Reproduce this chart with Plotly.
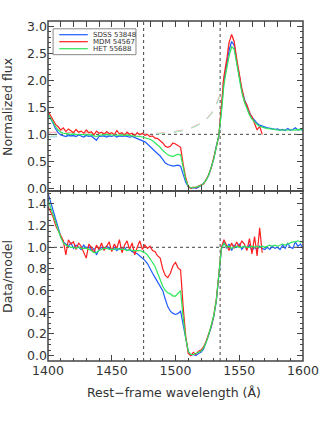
import plotly.graph_objects as go

# ---------------- data ----------------
wave_full = list(range(1400, 1601, 2))   # SDSS / HET sampling (Angstrom)
wave_mdm = list(range(1400, 1569, 2))    # MDM spectrum ends at ~1568 A

names = ["SDSS 53848", "MDM 54567", "HET 55688"]
colors = ["#1f5cff", "#ff1f1f", "#2ee65a"]
model_colors = ["#9ec4ff", "#ffa8a8", "#a8f0bc"]

# Normalized flux (top panel)
flux_sdss = [
    1.38, 1.30, 1.20, 1.10, 1.03, 0.99, 0.98, 0.96, 0.99, 0.97,
    0.98, 0.96, 0.99, 0.97, 0.95, 0.98, 0.96, 0.97, 0.93, 0.89,
    0.96, 0.96, 0.97, 0.95, 0.97, 0.96, 0.98, 0.95, 0.97, 0.96,
    0.97, 0.96, 0.95, 0.96, 0.94, 0.93, 0.91, 0.89, 0.86, 0.82,
    0.77, 0.72, 0.68, 0.64, 0.60, 0.53, 0.47, 0.44, 0.42, 0.41,
    0.42, 0.43, 0.41, 0.24, 0.11, 0.03, 0.00, 0.01, 0.00, 0.02,
    0.05, 0.09, 0.15, 0.24, 0.38, 0.55, 0.78, 0.97, 1.45, 2.00,
    2.28, 2.55, 2.72, 2.65, 2.35, 2.05, 1.82, 1.65, 1.52, 1.40,
    1.32, 1.25, 1.20, 1.17, 1.15, 1.13, 1.12, 1.11, 1.10, 1.09,
    1.10, 1.08, 1.09, 1.07, 1.11, 1.08, 1.09, 1.12, 1.08, 1.10, 1.07,
]
flux_mdm = [
    1.43, 1.35, 1.25, 1.18, 1.14, 1.08, 1.12, 1.05, 1.10, 1.07,
    1.03, 1.09, 1.04, 1.06, 1.02, 1.08, 1.03, 1.05, 0.99, 1.06,
    1.02, 1.04, 1.00, 1.05, 1.01, 1.03, 0.99, 1.07, 1.01, 1.03,
    0.98, 1.04, 1.00, 1.02, 0.97, 1.03, 0.99, 1.02, 0.98, 1.00,
    0.96, 0.97, 0.93, 0.92, 0.88, 0.84, 0.78, 0.76, 0.78, 0.84,
    0.82, 0.79, 0.76, 0.45, 0.20, 0.03, 0.00, 0.02, 0.01, 0.04,
    0.06, 0.08, 0.16, 0.25, 0.38, 0.56, 0.76, 0.98, 1.50, 2.08,
    2.35, 2.70, 2.85, 2.72, 2.40, 2.08, 1.85, 1.62, 1.55, 1.38,
    1.33, 1.20, 1.08, 1.15, 1.00,
]
flux_het = [
    1.38, 1.30, 1.21, 1.14, 1.08, 1.04, 1.02, 1.02, 1.01, 1.00,
    1.01, 1.00, 1.00, 0.99, 1.00, 0.99, 1.00, 0.99, 0.97, 0.96,
    0.98, 0.99, 0.99, 1.00, 0.99, 0.99, 0.98, 0.99, 0.99, 0.98,
    0.99, 0.98, 0.98, 0.97, 0.97, 0.97, 0.96, 0.95, 0.94, 0.93,
    0.91, 0.88, 0.84, 0.80, 0.76, 0.70, 0.65, 0.62, 0.60, 0.59,
    0.61, 0.63, 0.62, 0.35, 0.16, 0.04, 0.01, 0.01, 0.02, 0.03,
    0.05, 0.09, 0.15, 0.24, 0.37, 0.54, 0.76, 0.99, 1.40, 1.92,
    2.20, 2.45, 2.62, 2.58, 2.32, 2.02, 1.78, 1.60, 1.46, 1.36,
    1.28, 1.22, 1.18, 1.15, 1.13, 1.12, 1.11, 1.10, 1.09, 1.09,
    1.08, 1.08, 1.08, 1.07, 1.08, 1.07, 1.08, 1.08, 1.09, 1.09, 1.08,
]

# Unabsorbed models (pale dashed lines in top panel)
model_wave = [1400, 1420, 1440, 1460, 1476, 1486, 1496, 1506, 1514, 1520,
              1524, 1528, 1531, 1534, 1536, 1538, 1540, 1542, 1544, 1546,
              1548, 1552, 1556, 1560, 1566, 1572, 1580, 1590, 1600]
model_sdss = [0.95, 0.97, 0.98, 0.99, 1.00, 1.01, 1.03, 1.07, 1.13, 1.20,
              1.27, 1.38, 1.50, 1.66, 1.78, 2.02, 2.28, 2.55, 2.72, 2.65,
              2.35, 1.82, 1.52, 1.32, 1.17, 1.12, 1.10, 1.08, 1.08]
model_mdm = [1.04, 1.03, 1.02, 1.01, 1.01, 1.02, 1.04, 1.08, 1.14, 1.21,
             1.28, 1.39, 1.51, 1.68, 1.80, 2.08, 2.35, 2.70, 2.85, 2.72,
             2.40, 1.85, 1.55, 1.33, 1.15]
model_het = [0.96, 1.00, 1.00, 1.00, 1.00, 1.01, 1.03, 1.07, 1.13, 1.20,
             1.27, 1.37, 1.49, 1.66, 1.76, 1.95, 2.20, 2.45, 2.62, 2.58,
             2.32, 1.78, 1.46, 1.28, 1.15, 1.11, 1.08, 1.07, 1.08]

# Data / model (bottom panel)
ratio_sdss = [
    1.50, 1.42, 1.32, 1.25, 1.16, 1.10, 1.05, 1.03, 1.01, 1.04,
    0.99, 1.02, 1.00, 0.98, 1.02, 0.99, 1.01, 0.97, 0.99, 0.93,
    0.98, 1.00, 0.98, 1.01, 0.99, 0.98, 1.00, 0.97, 0.99, 0.98,
    1.00, 0.97, 0.98, 0.96, 0.95, 0.94, 0.92, 0.90, 0.88, 0.85,
    0.80, 0.76, 0.72, 0.68, 0.65, 0.60, 0.52, 0.45, 0.41, 0.39,
    0.38, 0.39, 0.41, 0.30, 0.16, 0.04, 0.00, 0.01, 0.00, 0.02,
    0.03, 0.06, 0.12, 0.19, 0.26, 0.36, 0.50, 0.74, 0.98, 1.05,
    0.99, 1.03, 0.97, 1.02, 1.00, 1.03, 0.98, 1.01, 0.99, 1.02,
    0.97, 1.00, 0.98, 1.01, 0.99, 0.98, 1.00, 0.98, 1.01, 0.99,
    1.00, 0.98, 1.02, 0.99, 1.04, 1.00, 0.99, 1.05, 1.01, 1.03, 0.99,
]
ratio_mdm = [
    1.38, 1.33, 1.28, 1.20, 1.15, 1.10, 1.06, 0.93, 1.07, 1.03,
    1.05, 0.98, 1.04, 1.01, 0.95, 0.90, 1.03, 1.00, 0.95, 1.02,
    0.98, 1.04, 0.97, 1.01, 1.05, 0.96, 1.03, 0.99, 1.07, 0.95,
    1.02, 1.06, 0.98, 1.04, 0.93, 1.00, 1.06, 0.98, 1.02, 0.99,
    1.01, 0.97, 0.96, 0.92, 0.90, 0.80, 0.74, 0.72, 0.76, 0.83,
    0.86, 0.81, 0.79, 0.45, 0.18, 0.02, 0.00, 0.03, 0.01, 0.04,
    0.05, 0.08, 0.13, 0.20, 0.27, 0.37, 0.52, 0.75, 1.00, 1.07,
    1.02, 0.97, 1.04, 0.99, 1.05, 1.00, 1.06, 1.03, 0.97, 1.08,
    0.94, 1.10, 0.92, 1.18, 0.95,
]
ratio_het = [
    1.44, 1.37, 1.30, 1.22, 1.15, 1.09, 1.04, 1.02, 1.01, 1.00,
    1.00, 0.99, 1.00, 0.99, 0.99, 0.99, 0.98, 0.97, 0.95, 0.95,
    0.97, 0.98, 0.99, 0.99, 0.98, 0.98, 0.98, 0.99, 0.98, 0.98,
    0.98, 0.97, 0.98, 0.97, 0.97, 0.97, 0.97, 0.96, 0.95, 0.93,
    0.90, 0.86, 0.82, 0.76, 0.70, 0.64, 0.60, 0.58, 0.57, 0.55,
    0.55, 0.58, 0.60, 0.35, 0.16, 0.04, 0.01, 0.01, 0.02, 0.03,
    0.04, 0.07, 0.12, 0.19, 0.27, 0.37, 0.51, 0.75, 0.99, 1.04,
    1.00, 1.01, 0.99, 1.00, 1.01, 1.00, 1.00, 1.01, 1.00, 1.00,
    1.01, 1.00, 1.01, 1.00, 1.01, 1.00, 1.01, 1.02, 1.01, 1.02,
    1.01, 1.02, 1.03, 1.02, 1.03, 1.04, 1.05, 1.05, 1.06, 1.05, 1.05,
]

ref_wavelengths = [1475, 1535]
ref_level = 1.0
x_range = [1400, 1600]
flux_range = [-0.05, 3.1]
ratio_range = [-0.05, 1.52]

# ---------------- figure ----------------
fig = go.Figure()
waves = [wave_full, wave_mdm, wave_full]
models = [model_sdss, model_mdm, model_het]
fluxes = [flux_sdss, flux_mdm, flux_het]
ratios = [ratio_sdss, ratio_mdm, ratio_het]

for mod, mc in zip(models, model_colors):
    fig.add_trace(go.Scatter(x=model_wave[:len(mod)], y=mod, mode="lines",
                             xaxis="x", yaxis="y",
                             line=dict(color=mc, width=1, dash="dash"),
                             hoverinfo="skip"))
for w, f, c, n in zip(waves, fluxes, colors, names):
    fig.add_trace(go.Scatter(x=w, y=f, mode="lines", name=n, xaxis="x", yaxis="y",
                             line=dict(color=c, width=1.2)))
for w, r, c, n in zip(waves, ratios, colors, names):
    fig.add_trace(go.Scatter(x=w, y=r, mode="lines", name=n, xaxis="x", yaxis="y2",
                             line=dict(color=c, width=1.2)))

axis_col = "#444444"
text_col = "#333333"
tick_font = dict(family="DejaVu Sans", size=12.5, color=text_col)
common = dict(showline=False, ticks="inside", ticklen=6, tickwidth=1, tickcolor=axis_col,
              showgrid=False, zeroline=False, automargin=False, tickfont=tick_font)

fig.update_layout(
    xaxis=dict(anchor="y2", domain=[0, 1], range=x_range, dtick=50, tick0=1400,
               mirror="allticks",
               minor=dict(dtick=10, ticks="inside", ticklen=3, tickcolor=axis_col,
                          showgrid=False),
               **common),
    yaxis=dict(anchor="x", domain=[0.5, 1], range=flux_range, dtick=0.5, tick0=0,
               tickformat=".1f", mirror="ticks",
               minor=dict(dtick=0.1, ticks="inside", ticklen=3, tickcolor=axis_col,
                          showgrid=False),
               **common),
    yaxis2=dict(anchor="x", domain=[0, 0.5], range=ratio_range, dtick=0.2, tick0=0,
                tickformat=".1f", mirror="ticks",
                minor=dict(dtick=0.05, ticks="inside", ticklen=3, tickcolor=axis_col,
                           showgrid=False),
                **common),
)

shapes = []
for wl in ref_wavelengths:
    shapes.append(dict(type="line", xref="x", yref="paper", x0=wl, x1=wl, y0=0, y1=1,
                       line=dict(color=axis_col, width=1, dash="dot"), layer="below"))
for yr in ("y", "y2"):
    shapes.append(dict(type="line", xref="x", yref=yr, x0=x_range[0], x1=x_range[1],
                       y0=ref_level, y1=ref_level,
                       line=dict(color=axis_col, width=1, dash="dot"), layer="below"))
# panel frames
for y0, y1 in ((0.5, 1.0), (0.0, 0.5)):
    shapes.append(dict(type="rect", xref="paper", yref="paper", x0=0, x1=1, y0=y0, y1=y1,
                       line=dict(color=axis_col, width=1.5), fillcolor="rgba(0,0,0,0)",
                       layer="above"))

# hand-built legend box (paper coords)
shapes.append(dict(type="rect", xref="paper", yref="paper", x0=0.02, x1=0.345,
                   y0=0.901, y1=0.977, line=dict(color="#888", width=1),
                   fillcolor="white", layer="above"))
annotations = []
legend_rows = [0.9597, 0.9391, 0.9185]
for yrow, n, c in zip(legend_rows, names, colors):
    shapes.append(dict(type="line", xref="paper", yref="paper", x0=0.044, x1=0.156,
                       y0=yrow, y1=yrow, line=dict(color=c, width=1.2), layer="above"))
    annotations.append(dict(xref="paper", yref="paper", x=0.168, y=yrow, text=n,
                            showarrow=False, xanchor="left", yanchor="middle",
                            font=dict(family="DejaVu Sans", size=7, color=text_col)))

title_font = dict(family="DejaVu Sans", size=12.5, color=text_col)
annotations += [
    dict(xref="paper", yref="paper", x=-0.161, y=0.747, text="Normalized flux",
         textangle=-90, showarrow=False, xanchor="center", yanchor="middle",
         font=title_font),
    dict(xref="paper", yref="paper", x=-0.161, y=0.25, text="Data/model",
         textangle=-90, showarrow=False, xanchor="center", yanchor="middle",
         font=title_font),
    dict(xref="paper", yref="paper", x=0.496, y=-0.094, text="Rest−frame wavelength (Å)",
         showarrow=False, xanchor="center", yanchor="middle", font=title_font),
]

fig.update_layout(width=319, height=425, autosize=False,
                  margin=dict(l=48, r=16, t=21, b=64, autoexpand=False),
                  showlegend=False, plot_bgcolor="white", paper_bgcolor="white",
                  font=tick_font, shapes=shapes, annotations=annotations)

fig.write_html("out.html", config={"displayModeBar": False},
               post_script="document.body.style.margin='0px';")
